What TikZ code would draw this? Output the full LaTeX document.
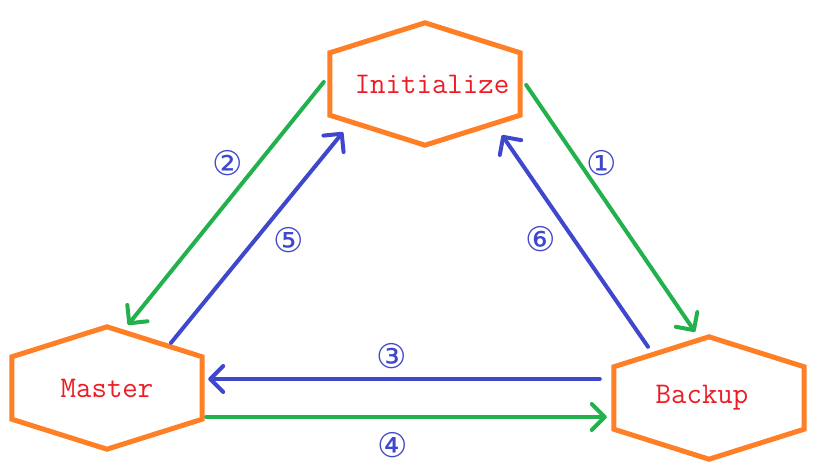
\documentclass[tikz,border=0pt]{standalone}
\usepackage{fontspec}
\newfontfamily\circfont{DejaVu Sans}
\usetikzlibrary{arrows.meta}

\definecolor{hexorange}{RGB}{255,127,39}
\definecolor{txtred}{RGB}{237,28,36}
\definecolor{stepgreen}{RGB}{34,177,76}
\definecolor{stepblue}{RGB}{63,72,204}

\tikzset{
	state/.style={minimum width=190pt, minimum height=122pt, inner sep=0pt, text=txtred, font=\fontsize{30}{32}\selectfont\ttfamily},
	hexline/.style={draw=hexorange, line width=5pt, line join=miter},
	go/.style={line width=4pt, line cap=round, -{Straight Barb[length=13pt,width=26pt,round]}},
	num/.style={text=stepblue, font=\fontsize{34}{36}\selectfont\circfont, inner sep=0pt},
}

\begin{document}
\begin{tikzpicture}[x=1pt,y=-1pt]
	\useasboundingbox (0,0) rectangle (825,466);

	% states
	\node[state] (init) at (425,84) {\hspace*{14pt}Initialize};
	\node[state] (master) at (107,388) {Master};
	\node[state] (backup) at (709,398) {\raisebox{-5pt}{Backup}\hspace*{14pt}};

	% hexagon outlines
	\foreach \s in {init,master,backup}
		\draw[hexline] ([yshift=-30pt]\s.north west) -- (\s.north) -- ([yshift=-30pt]\s.north east)
			-- ([yshift=30pt]\s.south east) -- (\s.south) -- ([yshift=30pt]\s.south west) -- cycle;

	% transitions
	\draw[go, stepgreen] ([xshift=6pt,yshift=-1pt]init.east) -- ([xshift=-14pt,yshift=5pt]backup.north);
	\draw[go, stepgreen] ([xshift=-6pt,yshift=2pt]init.west) -- ([xshift=21pt,yshift=2pt]master.north);
	\draw[go, stepblue] ([xshift=-14pt,yshift=19pt]backup.west) -- ([xshift=6pt,yshift=9pt]master.east);
	\draw[go, stepgreen] ([xshift=4pt,yshift=-29pt]master.east) -- ([xshift=-7pt,yshift=-19pt]backup.west);
	\draw[go, stepblue] ([xshift=64pt,yshift=-16pt]master.north) -- ([xshift=-82pt,yshift=13pt]init.south);
	\draw[go, stepblue] ([xshift=-61pt,yshift=-10pt]backup.north) -- ([xshift=77pt,yshift=10pt]init.south);

	% step numbers
	\node[num] (n1) at (602,163) {①};
	\node[num] (n2) at (228,163) {②};
	\node[num] (n3) at (392,356) {③};
	\node[num] (n4) at (393,445) {④};
	\node[num] (n5) at (289,240) {⑤};
	\node[num] (n6) at (541,239) {⑥};
\end{tikzpicture}
\end{document}
